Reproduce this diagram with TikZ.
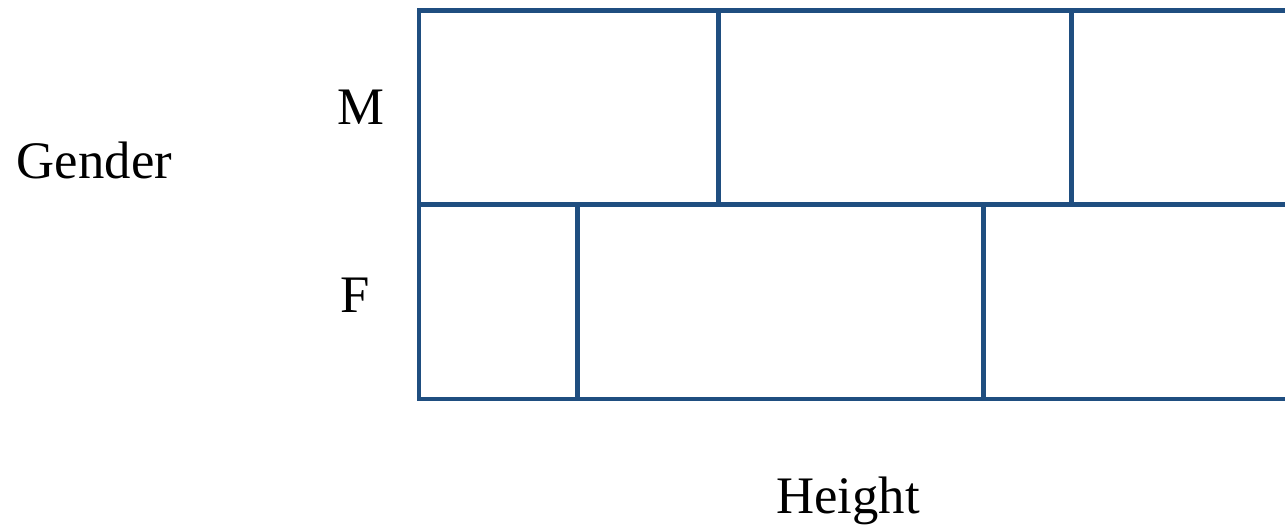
\documentclass[tikz,border=0pt]{standalone}
\usepackage{fontspec}
\setmainfont{Liberation Serif}
\definecolor{gridblue}{RGB}{31,78,128}
\tikzset{
  cell/.style={draw=gridblue,line width=0.09cm},
  lab/.style={anchor=base,inner sep=0pt,font=\fontsize{30}{35}\selectfont}
}
\begin{document}
\begin{tikzpicture}[x=0.02cm,y=-0.02cm]
  \useasboundingbox (0,0) rectangle (1285,527);
  % corners of the mosaic
  \coordinate (tl) at (419,10.5);
  \coordinate (ml) at (419,204.5);
  \coordinate (bl) at (419,399);
  \coordinate (tr) at (1285,10.5);
  \coordinate (mr) at (1285,204.5);
  \coordinate (br) at (1285,399);
  % outer lines, open on the right
  \draw[cell] (tr) -- (tl) -- (bl) -- (br);
  \draw[cell] (ml) -- (mr);
  % splits of the M row
  \draw[cell] (718.5,10.5) -- (718.5,204.5);
  \draw[cell] (1071.5,10.5) -- (1071.5,204.5);
  % splits of the F row
  \draw[cell] (577.5,204.5) -- (577.5,399);
  \draw[cell] (983.5,204.5) -- (983.5,399);
  % labels
  \node[lab] (gender) at (94.5,178.5) {Gender};
  \node[lab] (male) at (361,125) {M};
  \node[lab] (female) at (355,312) {F};
  \node[lab] (height) at (848,513) {Height};
\end{tikzpicture}
\end{document}
